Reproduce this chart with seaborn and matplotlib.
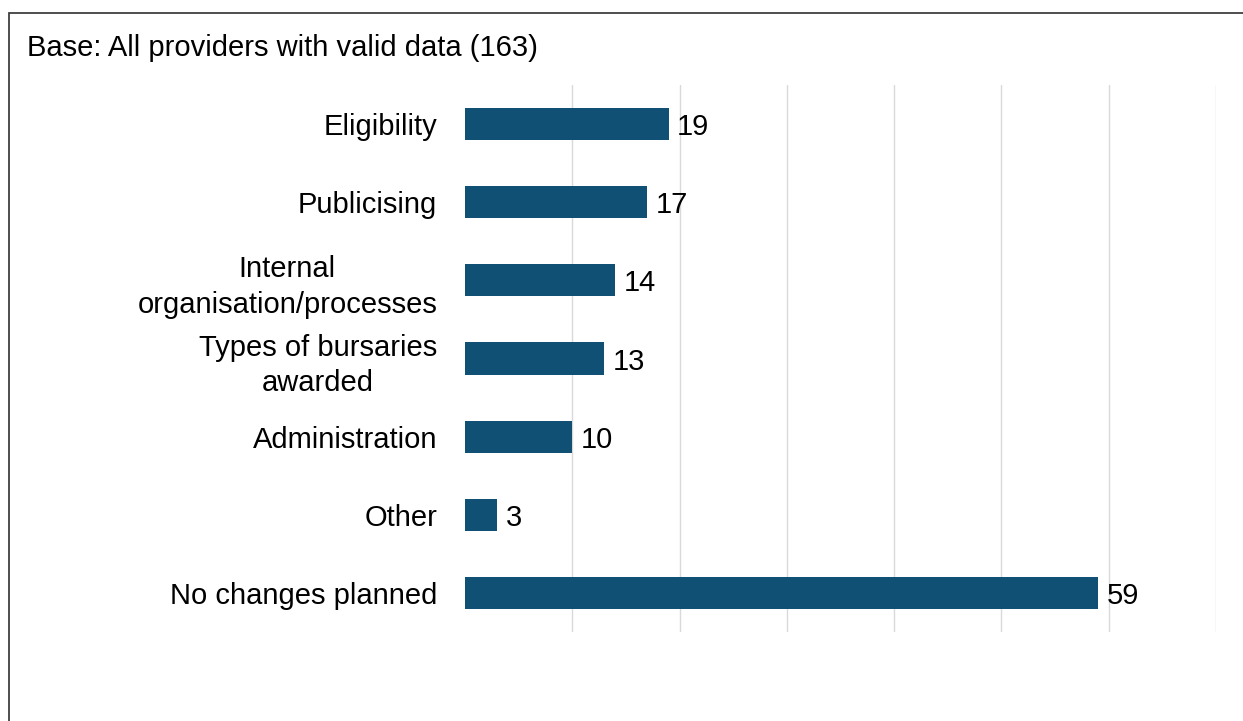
import matplotlib
matplotlib.use("Agg")
import matplotlib.pyplot as plt
from matplotlib.patches import Rectangle
import seaborn as sns
import pandas as pd

categories = [
    "Eligibility",
    "Publicising",
    "Internal\norganisation/processes",
    "Types of bursaries\nawarded",
    "Administration",
    "Other",
    "No changes planned",
]
values = [19, 17, 14, 13, 10, 3, 59]
base_note = "Base: All providers with valid data (163)"
bar_color = "#105075"

sns.set_style("white")
plt.rcParams["font.family"] = ["Liberation Sans", "DejaVu Sans"]

df = pd.DataFrame({"category": categories, "value": values})

fig = plt.figure(figsize=(12.43, 7.21), dpi=100)
ax = fig.add_axes([465 / 1243, 1 - 632 / 721, (1216 - 465) / 1243, (632 - 85) / 721])

sns.barplot(data=df, x="value", y="category", orient="h", color=bar_color,
            saturation=1, width=0.41, linewidth=0, ax=ax)

ax.set_xlim(0, 70)
ax.set_ylim(6.5, -0.5)
ax.set_xticks(range(10, 71, 10))
ax.set_xticklabels([])
ax.grid(axis="x", color="#d9d9d9", linewidth=1.0)
ax.grid(axis="y", visible=False)
ax.set_axisbelow(True)
for side in ax.spines.values():
    side.set_visible(False)
ax.set_xlabel("")
ax.set_ylabel("")
ax.tick_params(axis="both", length=0)
ax.tick_params(axis="y", pad=20, labelsize=21, labelcolor="#000000")
for lbl in ax.get_yticklabels():
    lbl.set_multialignment("center")
    lbl.set_linespacing(1.33)

# Value labels just past the end of each bar
for i, v in enumerate(df["value"]):
    ax.annotate(str(v), xy=(v, i), xytext=(6, 0), textcoords="offset points",
                ha="left", va="center_baseline", fontsize=21, color="#000000")

fig.text(27 / 1243, 1 - 48 / 721, base_note, fontsize=21, color="#000000",
         ha="left", va="center")

# Frame around the chart area (open to the right and bottom)
fig.patches.append(Rectangle((8.5 / 1243, -0.1), 1.2, 1 - 12.5 / 721 + 0.1,
                             transform=fig.transFigure, fill=False,
                             edgecolor="#404040", linewidth=1.3))

fig.savefig("out.png", dpi=100)
